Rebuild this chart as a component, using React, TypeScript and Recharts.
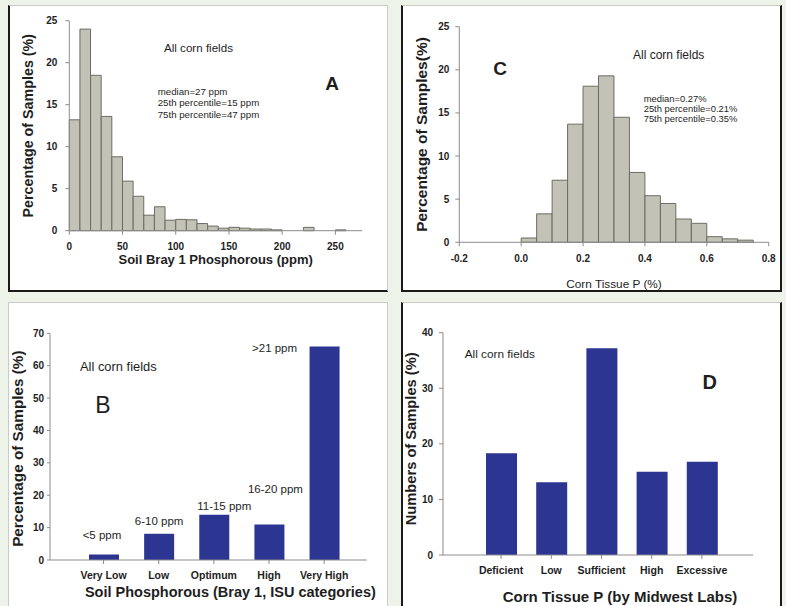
import { Bar, BarChart, Label, LabelList, XAxis, YAxis } from "recharts"

const FONT = "'Liberation Sans', Arial, Helvetica, sans-serif"
const INK = "#1e1e1e"
const AXIS = "#8c8c8c"
const GRAY_FILL = "#c2c2b6"
const GRAY_EDGE = "#6c6c64"
const BLUE = "#2c3592"

// A: soil Bray 1 P histogram, 10 ppm bins
const soilBinStarts = [0, 10, 20, 30, 40, 50, 60, 70, 80, 90, 100, 110, 120, 130, 140, 150, 160, 170, 180, 190, 200, 210, 220, 230, 240, 250]
const soilPct = [13.2, 24.0, 18.5, 13.6, 8.8, 5.9, 4.1, 1.85, 2.85, 1.25, 1.35, 1.3, 0.85, 0.55, 0.3, 0.4, 0.3, 0.2, 0.2, 0.1, 0, 0, 0.4, 0, 0, 0.1]
const soilTicks = [0, 50, 100, 150, 200, 250]
const soilStats = ["median=27 ppm", "25th percentile=15 ppm", "75th percentile=47 ppm"]

// C: corn tissue P histogram, 0.05 % bins
const tissueBinStarts = [0, 0.05, 0.1, 0.15, 0.2, 0.25, 0.3, 0.35, 0.4, 0.45, 0.5, 0.55, 0.6, 0.65, 0.7]
const tissuePct = [0.5, 3.3, 7.2, 13.7, 18.1, 19.3, 14.5, 8.1, 5.4, 4.5, 2.7, 2.2, 0.65, 0.4, 0.25]
const tissueTicks = [-0.2, 0, 0.2, 0.4, 0.6, 0.8]
const tissueStats = ["median=0.27%", "25th percentile=0.21%", "75th percentile=0.35%"]

const pctTicksA = [0, 5, 10, 15, 20, 25]

// B: ISU soil test categories
const soilCategories = ["Very Low", "Low", "Optimum", "High", "Very High"]
const soilRanges = ["<5 ppm", "6-10 ppm", "11-15 ppm", "16-20 ppm", ">21 ppm"]
const soilCategoryPct = [1.7, 8.1, 14.0, 11.0, 65.9]
const soilCategoryTicks = [0, 10, 20, 30, 40, 50, 60, 70]

// D: Midwest Labs tissue categories
const tissueCategories = ["Deficient", "Low", "Sufficient", "High", "Excessive"]
const tissueCategoryPct = [18.3, 13.1, 37.2, 15.0, 16.8]
const tissueCategoryTicks = [0, 10, 20, 30, 40]

const soilData = soilBinStarts.map((s, i) => ({ mid: s + 5, pct: soilPct[i] }))
const tissueData = tissueBinStarts.map((s, i) => ({ mid: s + 0.025, pct: tissuePct[i] }))
const soilCatData = soilCategories.map((c, i) => ({ cat: c, range: soilRanges[i], pct: soilCategoryPct[i] }))
const tissueCatData = tissueCategories.map((c, i) => ({ cat: c, pct: tissueCategoryPct[i] }))

const tick = (size: number) => ({ fontSize: size, fontWeight: 700, fill: INK, fontFamily: FONT })

function yTitle(text: string, x: number, size: number, dy = 0) {
  return (props: any) => {
    const vb = props.viewBox
    const cy = vb.y + vb.height / 2 + dy
    return (
      <text x={x} y={cy} transform={`rotate(-90 ${x} ${cy})`} textAnchor="middle" dominantBaseline="central"
        fontFamily={FONT} fontSize={size} fontWeight={700} fill={INK}>
        {text}
      </text>
    )
  }
}

function xTitle(text: string, dy: number, size: number, dx = 0, weight = 700) {
  return (props: any) => {
    const vb = props.viewBox
    return (
      <text x={vb.x + vb.width / 2 + dx} y={vb.y + dy} textAnchor="middle" dominantBaseline="central"
        fontFamily={FONT} fontSize={size} fontWeight={weight} fill={INK}>
        {text}
      </text>
    )
  }
}

// offsets of the ppm range labels in panel B, relative to bar top centre
const rangeOffsets = [[-2, -19], [0, -13], [10, -9], [6, -35], [-50, 1]]

function RangeLabel(props: any) {
  const { x, y, width, value, index } = props
  const [dx, dy] = rangeOffsets[index] ?? [0, -10]
  return (
    <text x={x + width / 2 + dx} y={y + dy} textAnchor="middle" dominantBaseline="central"
      fontFamily={FONT} fontSize={11.5} fill={INK}>
      {value}
    </text>
  )
}

function Note({ x, y, size, bold, children, center }: any) {
  return (
    <div style={{
      position: "absolute", left: x, top: y, transform: `translate(${center ? "-50%" : "0"}, -50%)`,
      fontFamily: FONT, fontSize: size, fontWeight: bold ? 700 : 400, color: INK, whiteSpace: "nowrap", lineHeight: 1,
    }}>
      {children}
    </div>
  )
}

const panel = (left: number, top: number, w: number, h: number, b: any) => ({
  position: "absolute" as const, left, top, width: w, height: h, background: "#fff", boxSizing: "border-box" as const, ...b,
})

const DARK = "2px solid #1a1a1a"
const LIGHT = "1px solid #c9ccc6"

export default function App() {
  // histogram pixel geometry (plot widths)
  const aPlotW = 292.7
  const cPlotW = 309.4
  const aBar = (aPlotW / 275) * 10 - 0.05
  const cBar = (cPlotW / 1.0) * 0.05 - 0.05

  return (
    <div style={{ position: "absolute", left: 0, top: 0, width: 786, height: 606, background: "#edf3e9", overflow: "hidden" }}>
      <style>{".recharts-surface{overflow:visible}"}</style>
      <div style={panel(8, 5, 380, 287, { borderLeft: DARK, borderBottom: DARK, borderTop: LIGHT, borderRight: LIGHT })} />
      <div style={panel(401, 5, 381, 287, { borderLeft: DARK, borderBottom: DARK, borderRight: DARK, borderTop: LIGHT })} />
      <div style={panel(8, 302, 380, 310, { borderLeft: LIGHT, borderTop: LIGHT, borderRight: LIGHT })} />
      <div style={panel(401, 302, 381, 310, { borderLeft: DARK, borderRight: DARK, borderTop: LIGHT })} />

      {/* A */}
      <div style={{ position: "absolute", left: 8, top: 5 }}>
        <BarChart width={380} height={286} data={soilData} margin={{ top: 15.7, right: 26, left: 0, bottom: 0 }}>
          <XAxis dataKey="mid" type="number" domain={[0, 275]} ticks={soilTicks} height={60.3}
            stroke={AXIS} tick={tick(10)} tickSize={4} tickMargin={8} interval={0}>
            <Label content={xTitle("Soil Bray 1 Phosphorous (ppm)", 29, 13)} />
          </XAxis>
          <XAxis xAxisId="frame" orientation="top" dataKey="mid" type="number" domain={[0, 275]} height={0}
            stroke={AXIS} tick={false} tickLine={false} />
          <YAxis type="number" domain={[0, 25]} ticks={pctTicksA} width={61.3} stroke={AXIS}
            tick={tick(10)} tickSize={4} tickMargin={8} interval={0}>
            <Label content={yTitle("Percentage of Samples (%)", 20, 14.3)} />
          </YAxis>
          <YAxis yAxisId="frame" orientation="right" domain={[0, 25]} width={0} stroke={AXIS} tick={false} tickLine={false} />
          <Bar dataKey="pct" fill={GRAY_FILL} stroke={GRAY_EDGE} strokeWidth={1} barSize={aBar} isAnimationActive={false} />
        </BarChart>
      </div>
      <Note x={164} y={48} size={11.6}>All corn fields</Note>
      {soilStats.map((s, i) => (
        <Note key={s} x={157.7} y={91.7 + i * 11.7} size={9.7}>{s}</Note>
      ))}
      <Note x={332} y={83} size={19} bold center>A</Note>

      {/* C */}
      <div style={{ position: "absolute", left: 401, top: 5 }}>
        <BarChart width={380} height={286} data={tissueData} margin={{ top: 21.7, right: 12.3, left: 0, bottom: 0 }}>
          <XAxis dataKey="mid" type="number" domain={[-0.2, 0.8]} ticks={tissueTicks} height={48.7}
            stroke={AXIS} tick={tick(10)} tickSize={4} tickMargin={9} interval={0}
            tickFormatter={(v: number) => v.toFixed(1)}>
            <Label content={xTitle("Corn Tissue P (%)", 41.5, 11.8, 0, 400)} />
          </XAxis>
          <XAxis xAxisId="frame" orientation="top" dataKey="mid" type="number" domain={[-0.2, 0.8]} height={0}
            stroke={AXIS} tick={false} tickLine={false} />
          <YAxis type="number" domain={[0, 25]} ticks={pctTicksA} width={58.3} stroke={AXIS}
            tick={tick(10)} tickSize={4} tickMargin={6} interval={0}>
            <Label content={yTitle("Percentage of Samples(%)", 20, 15.5)} />
          </YAxis>
          <YAxis yAxisId="frame" orientation="right" domain={[0, 25]} width={0} stroke={AXIS} tick={false} tickLine={false} />
          <Bar dataKey="pct" fill={GRAY_FILL} stroke={GRAY_EDGE} strokeWidth={1} barSize={cBar} isAnimationActive={false} />
        </BarChart>
      </div>
      <Note x={633} y={55} size={12}>All corn fields</Note>
      {tissueStats.map((s, i) => (
        <Note key={s} x={643.7} y={99 + i * 9.8} size={9.4}>{s}</Note>
      ))}
      <Note x={500} y={68} size={19} bold center>C</Note>

      {/* B */}
      <div style={{ position: "absolute", left: 8, top: 302 }}>
        <BarChart width={379} height={304} data={soilCatData} margin={{ top: 31.3, right: 20.3, left: 0, bottom: 0 }}>
          <XAxis dataKey="cat" height={46} stroke={AXIS} tick={tick(10.5)} tickSize={4} tickMargin={8}
            padding={{ left: 26, right: 15 }} interval={0}>
            <Label content={xTitle("Soil Phosphorous (Bray 1, ISU categories)", 31.7, 14.5, 22)} />
          </XAxis>
          <XAxis xAxisId="frame" orientation="top" dataKey="cat" height={0} stroke={AXIS} tick={false} tickLine={false} />
          <YAxis type="number" domain={[0, 70]} ticks={soilCategoryTicks} width={42} stroke={AXIS}
            tick={tick(10)} tickSize={3} tickMargin={3} interval={0}>
            <Label content={yTitle("Percentage of Samples (%)", 10, 15.3, 2)} />
          </YAxis>
          <YAxis yAxisId="frame" orientation="right" domain={[0, 70]} width={0} stroke={AXIS} tick={false} tickLine={false} />
          <Bar dataKey="pct" fill={BLUE} barSize={30} isAnimationActive={false}>
            <LabelList dataKey="range" content={RangeLabel} />
          </Bar>
        </BarChart>
      </div>
      <Note x={80} y={367} size={12.9}>All corn fields</Note>
      <Note x={103} y={405} size={23} center>B</Note>

      {/* D */}
      <div style={{ position: "absolute", left: 401, top: 302 }}>
        <BarChart width={380} height={304} data={tissueCatData} margin={{ top: 30.7, right: 28, left: 0, bottom: 0 }}>
          <XAxis dataKey="cat" height={51} stroke={AXIS} tick={tick(10.5)} tickSize={4} tickMargin={8}
            padding={{ left: 33, right: 26 }} interval={0}>
            <Label content={xTitle("Corn Tissue P (by Midwest Labs)", 41, 15, 22)} />
          </XAxis>
          <XAxis xAxisId="frame" orientation="top" dataKey="cat" height={0} stroke={AXIS} tick={false} tickLine={false} />
          <YAxis type="number" domain={[0, 40]} ticks={tissueCategoryTicks} width={42} stroke={AXIS}
            tick={tick(10)} tickSize={4} tickMargin={6} interval={0}>
            <Label content={yTitle("Numbers of Samples (%)", 10, 14.7, -5)} />
          </YAxis>
          <YAxis yAxisId="frame" orientation="right" domain={[0, 40]} width={0} stroke={AXIS} tick={false} tickLine={false} />
          <Bar dataKey="pct" fill={BLUE} barSize={31} isAnimationActive={false} />
        </BarChart>
      </div>
      <Note x={464.7} y={355} size={11.8}>All corn fields</Note>
      <Note x={709.7} y={381.7} size={20} bold center>D</Note>
    </div>
  )
}
